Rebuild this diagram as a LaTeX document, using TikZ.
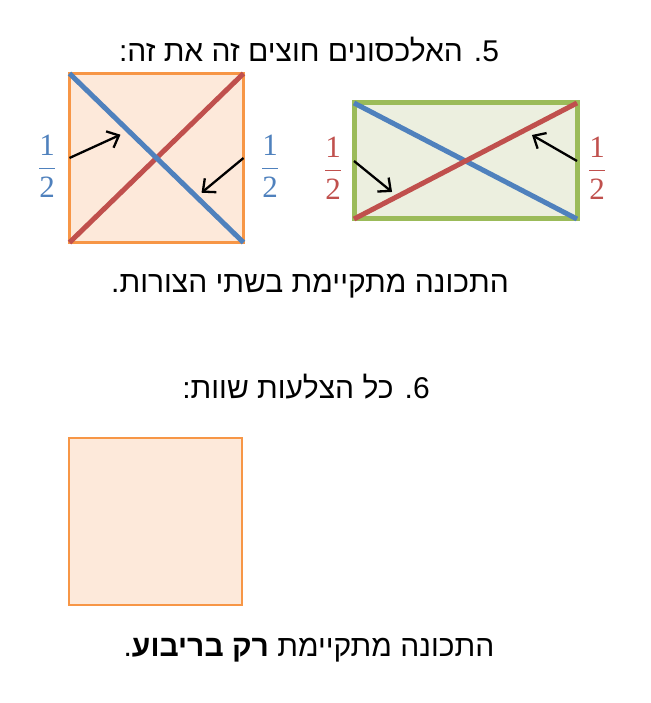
\RequirePackage{fix-cm}
\documentclass[tikz,border=0pt]{standalone}
\usepackage{amsmath}
\usepackage{fontspec}
\setmainfont{Liberation Sans}
\newfontfamily\hebfont[Script=Hebrew]{Liberation Sans}
\newfontfamily\numfont{Liberation Serif}
\TeXXeTstate=1
\usetikzlibrary{arrows.meta}
\definecolor{orng}{HTML}{F79646}
\definecolor{peach}{HTML}{FDE9DA}
\definecolor{olv}{HTML}{9BBB59}
\definecolor{sage}{HTML}{ECEFDF}
\definecolor{blu}{HTML}{4F81BD}
\definecolor{rd}{HTML}{C0504D}
\newcommand{\half}{$\genfrac{}{}{1.6pt}{0}{\mbox{\numfont 1}}{\mbox{\numfont 2}}$}
\tikzstyle{arrow} = [-{Straight Barb[length=10pt,width=18pt]},line width=2.3pt]
\tikzstyle{quad} = [draw,inner sep=0pt,outer sep=0pt]
\tikzstyle{diag} = [line width=5pt]
\tikzstyle{frac} = [inner sep=0pt,font=\fontsize{31}{36}\selectfont]
\tikzstyle{txt} = [inner sep=0pt,anchor=base,font=\hebfont\fontsize{30}{36}\selectfont]

\begin{document}
\begin{tikzpicture}[x=1pt,y=-1pt]
        \useasboundingbox (0,0) rectangle (650,703);
        % 5
        \node[txt] at (309,62) (t5) {\beginR 5. האלכסונים חוצים זה את זה:\endR};
        \node[quad, draw=orng, fill=peach, line width=3pt, minimum width=174pt, minimum height=169pt] at (156.5,158) (sq) {};
        \node[quad, draw=olv, fill=sage, line width=5pt, minimum width=223pt, minimum height=116pt] at (465.5,161) (re) {};

        \draw[diag, rd] (sq.south west) -- (sq.north east);
        \draw[diag, blu] (sq.north west) -- (sq.south east) coordinate[pos=0.34] (b1) coordinate[pos=0.73] (b2);
        \draw[diag, blu] (re.north west) -- (re.south east);
        \draw[diag, rd] (re.south west) -- (re.north east) coordinate[pos=0.195] (r1) coordinate[pos=0.763] (r2);

        \draw[arrow, shorten >=9pt] (sq.west) -- (b1);
        \draw[arrow, shorten >=6.5pt] (sq.east) -- (b2);
        \draw[arrow, shorten >=7pt] (re.west) -- (r1);
        \draw[arrow, shorten >=9pt] (re.east) -- (r2);

        \node[frac, text=blu] at (47,166) (f1) {\half};
        \node[frac, text=blu] at (270,166) (f2) {\half};
        \node[frac, text=rd] at (333,168) (f3) {\half};
        \node[frac, text=rd] at (597,168) (f4) {\half};

        \node[txt] at (310,292) (c5) {\beginR התכונה מתקיימת בשתי הצורות.\endR};

        % 6
        \node[txt] at (306,398) (t6) {\beginR 6. כל הצלעות שוות:\endR};
        \node[quad, draw=orng, fill=peach, line width=2.5pt, minimum width=173pt, minimum height=167pt] at (155.5,521.5) (sq6) {};
        \node[txt] at (309,656) (c6) {\beginR התכונה מתקיימת \textbf{רק בריבוע}.\endR};
\end{tikzpicture}
\end{document}
